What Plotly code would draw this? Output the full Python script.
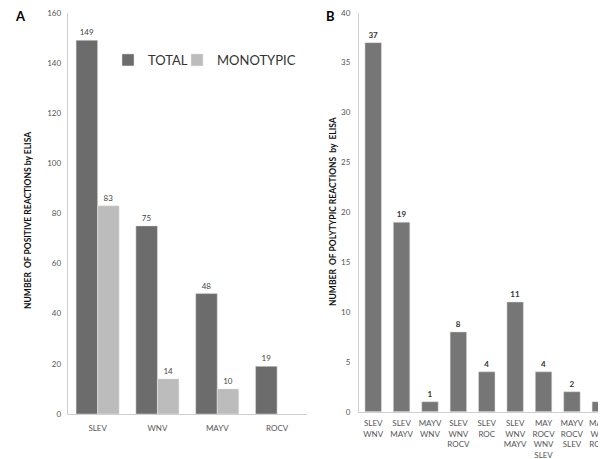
import plotly.graph_objects as go

# Panel A data
viruses = ["SLEV", "WNV", "MAYV", "ROCV"]
total = [149, 75, 48, 19]
monotypic = [83, 14, 10, None]
ticks_a = [0, 20, 40, 60, 80, 100, 120, 140, 160]

# Panel B data
combos = ["SLEV<br>WNV", "SLEV<br>MAYV", "MAYV<br>WNV", "SLEV<br>WNV<br>ROCV", "SLEV<br>ROC",
          "SLEV<br>WNV<br>MAYV", "MAY<br>ROCV<br>WNV<br>SLEV", "MAYV<br>ROCV<br>SLEV", "MAYV<br>WNV<br>ROCV"]
polytypic = [37, 19, 1, 8, 4, 11, 4, 2, 1]
ticks_b = [0, 5, 10, 15, 20, 25, 30, 35, 40]

FONT = "Lato"
OFF = 8  # default page body margin
W, H = 606 - OFF, 459 - OFF
NB = "\u00a0"

fig = go.Figure()
fig.add_trace(go.Bar(x=viruses, y=total, name="TOTAL", legend="legend",
                     marker=dict(color="#6c6c6c", line=dict(color="#e0e0e0", width=0.5)),
                     text=total, textposition="outside", textfont=dict(size=8, color="#444", family=FONT),
                     cliponaxis=False, xaxis="x", yaxis="y"))
fig.add_trace(go.Bar(x=viruses, y=monotypic, name="MONOTYPIC", legend="legend2",
                     marker=dict(color="#bcbcbc", line=dict(color="#e8e8e8", width=0.5)),
                     text=[v if v is not None else "" for v in monotypic], textposition="outside",
                     textfont=dict(size=8, color="#444", family=FONT), cliponaxis=False, xaxis="x", yaxis="y"))
fig.add_trace(go.Bar(x=combos, y=polytypic, name="POLYTYPIC", showlegend=False, width=0.58,
                     marker=dict(color="#767676", line=dict(color="#e0e0e0", width=0.5)),
                     texttemplate="<b>%{y}</b>", textposition="outside",
                     textfont=dict(size=8, color="#333", family=FONT), cliponaxis=False, xaxis="x2", yaxis="y2"))

def px(x):
    return (x - OFF) / W

def py(y):
    return (H - (y - OFF)) / H

axis_common = dict(showgrid=False, zeroline=False, showline=True, linecolor="#cfcfcf", linewidth=1,
                   ticks="", automargin=False, ticklabeloverflow="allow",
                   tickfont=dict(size=8, color="#555", family=FONT))

leg_common = dict(orientation="h", yanchor="middle", xanchor="left", bgcolor="rgba(0,0,0,0)",
                  font=dict(size=13, color="#333", family=FONT), itemwidth=30)

fig.update_layout(
    template="none",
    width=W, height=H, margin=dict(l=0, r=0, t=0, b=0, autoexpand=False),
    paper_bgcolor="white", plot_bgcolor="white",
    barmode="group", bargap=0.28, bargroupgap=0,
    font=dict(family=FONT),
    xaxis=dict(domain=[px(67.7), px(307)], range=[-0.5, 3.5], anchor="y", type="category",
               ticklabelstandoff=6, **axis_common),
    yaxis=dict(domain=[py(414), py(12.7)], range=[0, 160.001], tickmode="array", tickvals=ticks_a,
               anchor="x", ticklabelstandoff=4, **axis_common),
    xaxis2=dict(domain=[px(359), 1.0], range=[-0.5, 8.2], anchor="y2", type="category",
                ticklabelstandoff=4, **axis_common),
    yaxis2=dict(domain=[py(411.7), py(12.7)], range=[0, 40.001], tickmode="array", tickvals=ticks_b,
                anchor="x2", ticklabelstandoff=6, **axis_common),
    legend=dict(x=px(108), y=py(60), **leg_common),
    legend2=dict(x=px(177), y=py(60), **leg_common),
    showlegend=True,
    annotations=[
        dict(text="<b>A</b>", x=px(20), y=py(16), xref="paper", yref="paper", showarrow=False,
             xanchor="center", yanchor="middle", font=dict(size=13, color="#000", family=FONT)),
        dict(text="<b>B</b>", x=px(330), y=py(16), xref="paper", yref="paper", showarrow=False,
             xanchor="center", yanchor="middle", font=dict(size=13, color="#000", family=FONT)),
        dict(text=f"<b>NUMBER{NB} OF POSITIVE REACTIONS by ELISA</b>", x=px(28), y=py(221), xref="paper", yref="paper",
             xanchor="center", yanchor="middle",
             showarrow=False, textangle=-90, font=dict(size=8.5, color="#111", family=FONT)),
        dict(text=f"<b>NUMBER{NB} OF POLYTYPIC REACTIONS{NB} by{NB} ELISA</b>", x=px(333), y=py(212), xref="paper", yref="paper",
             xanchor="center", yanchor="middle",
             showarrow=False, textangle=-90, font=dict(size=8.5, color="#111", family=FONT)),
    ],
)

fig.write_html("out.html")
